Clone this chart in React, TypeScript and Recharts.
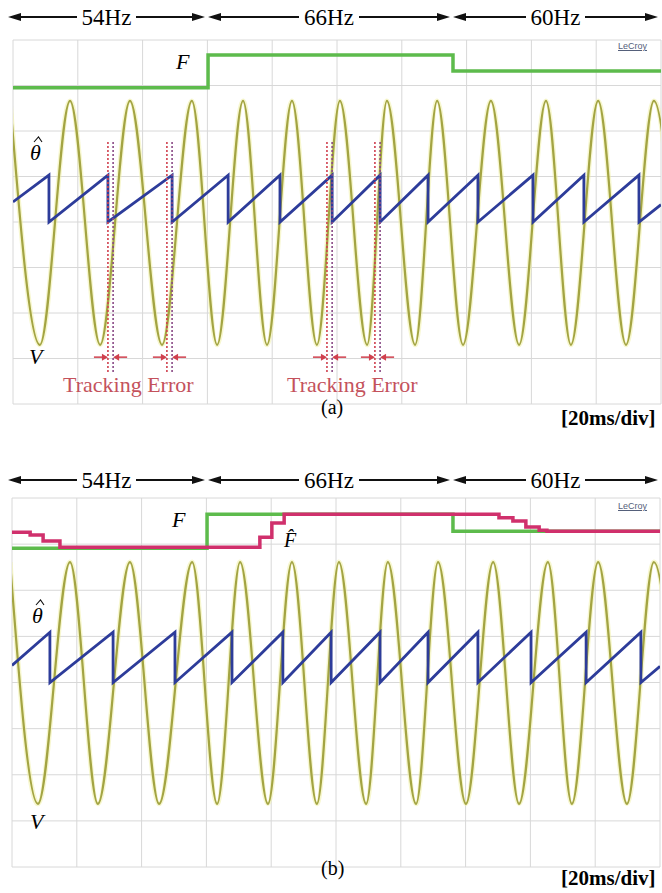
import React from "react";
import { ComposedChart, Line, XAxis, YAxis, CartesianGrid, Scatter } from "recharts";

// time axis in ms (20 ms/div), vertical axis in divisions
const X_TICKS = [0, 20, 40, 60, 80, 100, 120, 140, 160, 180, 200];
const Y_TICKS = [-4, -3, -2, -1, 0, 1, 2, 3, 4];

// ---- panel (a) ----
const A_SINE_T = [-0.9, 8.3, 17.6, 26.9, 36.1, 46.0, 55.2, 63.0, 71.0, 78.4, 86.1, 93.8, 100.9, 109.3, 115.4, 124.1, 130.9, 138.9, 147.5, 156.2, 164.5, 172.2, 180.6, 189.2, 197.8, 206.0];
const A_SINE_V = [2.66, -2.7, 2.66, -2.7, 2.66, -2.7, 2.66, -2.7, 2.66, -2.7, 2.66, -2.7, 2.66, -2.7, 2.66, -2.7, 2.66, -2.7, 2.66, -2.7, 2.66, -2.7, 2.66, -2.7, 2.66, -2.7];
const A_THETA_T = [0, 11.1, 11.1, 29.3, 29.3, 49.1, 49.1, 66.4, 66.4, 82.4, 82.4, 98.5, 98.5, 113.3, 113.3, 128.1, 128.1, 143.5, 143.5, 160.5, 160.5, 176.2, 176.2, 193.2, 193.2, 200];
const A_THETA_V = [0.44, 1.03, 0, 1.03, 0, 1.03, 0, 1.03, 0, 1.03, 0, 1.03, 0, 1.03, 0, 1.03, 0, 1.03, 0, 1.03, 0, 1.03, 0, 1.03, 0, 0.38];
const A_F_T = [0, 60.2, 135.8, 200];
const A_F_V = [2.95, 3.67, 3.32, 3.32];
// tracking error markers (left / right dotted lines)
const A_ERR_LEFT = [29.3, 47.5, 96.9, 111.7];
const A_ERR_RIGHT = [30.9, 49.1, 98.5, 113.3];
const ERR_TOP = 1.76;
const ERR_BOTTOM = -3.3;
const ERR_ARROW_Y = -2.97;

// ---- panel (b) ----
const B_SINE_T = [-0.6, 8.0, 17.9, 26.5, 36.4, 45.4, 55.6, 63.3, 70.4, 79.0, 86.4, 94.1, 100.9, 109.3, 116.0, 124.7, 131.5, 140.1, 148.5, 156.5, 165.4, 172.8, 180.9, 189.8, 198.1, 206.5];
const B_SINE_V = [2.61, -2.63, 2.61, -2.63, 2.61, -2.63, 2.61, -2.63, 2.61, -2.63, 2.61, -2.63, 2.61, -2.63, 2.61, -2.63, 2.61, -2.63, 2.61, -2.63, 2.61, -2.63, 2.61, -2.63, 2.61, -2.63];
const B_THETA_T = [0, 11.7, 11.7, 31.2, 31.2, 50.3, 50.3, 67.9, 67.9, 83.6, 83.6, 98.5, 98.5, 113.6, 113.6, 128.4, 128.4, 143.8, 143.8, 160.2, 160.2, 177.2, 177.2, 194.1, 194.1, 200];
const B_THETA_V = [0.37, 1.09, 0, 1.09, 0, 1.09, 0, 1.09, 0, 1.09, 0, 1.09, 0, 1.09, 0, 1.09, 0, 1.09, 0, 1.09, 0, 1.09, 0, 1.09, 0, 0.35];
const B_F_T = [0, 60.2, 136.1, 200];
const B_F_V = [2.91, 3.65, 3.28, 3.28];
const B_FHAT_T = [0, 5.6, 9.6, 14.8, 76.5, 80.2, 84.0, 150.3, 154.6, 158.6, 162.7, 165.1, 200];
const B_FHAT_V = [3.26, 3.2, 3.07, 2.93, 3.15, 3.46, 3.65, 3.57, 3.5, 3.37, 3.3, 3.28, 3.28];

const SERIF = '"Liberation Serif", "Times New Roman", serif';
const SINE = "#a3a443";
const SINE_GLOW = "#f1f1a8";
const THETA = "#2d3c9a";
const GREEN = "#5dbb4c";
const PINK = "#d0306c";
const ERR = "#d0404e";

type Pt = { t: number; v: number };
const zip = (t: number[], v: number[]): Pt[] => t.map((x, i) => ({ t: x, v: v[i] }));

function ArrowRight(props: { cx?: number; cy?: number }) {
  const { cx = 0, cy = 0 } = props;
  return (
    <g>
      <line x1={cx - 14} x2={cx - 4} y1={cy} y2={cy} stroke={ERR} strokeWidth={1.5} />
      <path d={`M${cx},${cy} L${cx - 6},${cy - 3.5} L${cx - 6},${cy + 3.5} Z`} fill={ERR} />
    </g>
  );
}

function ArrowLeft(props: { cx?: number; cy?: number }) {
  const { cx = 0, cy = 0 } = props;
  return (
    <g>
      <line x1={cx + 4} x2={cx + 14} y1={cy} y2={cy} stroke={ERR} strokeWidth={1.5} />
      <path d={`M${cx},${cy} L${cx + 6},${cy - 3.5} L${cx + 6},${cy + 3.5} Z`} fill={ERR} />
    </g>
  );
}

function Scope({
  sine,
  theta,
  f,
  fhat,
  margin,
  errors,
}: {
  sine: Pt[];
  theta: Pt[];
  f: Pt[];
  fhat?: Pt[];
  margin: { top: number; right: number; bottom: number; left: number };
  errors?: boolean;
}) {
  return (
    <ComposedChart width={662} height={430} margin={margin}>
      <CartesianGrid stroke="#d8d8d8" strokeWidth={1} />
      <XAxis dataKey="t" type="number" domain={[0, 200]} ticks={X_TICKS} allowDataOverflow hide />
      <YAxis type="number" domain={[-4, 4]} ticks={Y_TICKS} allowDataOverflow hide />
      <Line data={sine} dataKey="v" type="monotone" stroke={SINE_GLOW} strokeWidth={5} strokeOpacity={0.55} dot={false} isAnimationActive={false} />
      <Line data={sine} dataKey="v" type="monotone" stroke={SINE} strokeWidth={2.2} dot={false} isAnimationActive={false} />
      <Line data={f} dataKey="v" type="stepAfter" stroke={GREEN} strokeWidth={3.5} dot={false} isAnimationActive={false} />
      {fhat && (
        <Line data={fhat} dataKey="v" type="stepAfter" stroke={PINK} strokeWidth={3.5} dot={false} isAnimationActive={false} />
      )}
      <Line data={theta} dataKey="v" type="linear" stroke={THETA} strokeWidth={2.8} dot={false} isAnimationActive={false} />
      {errors &&
        A_ERR_LEFT.map((t, i) => (
          <Line
            key={"l" + i}
            data={[{ t, v: ERR_TOP }, { t, v: ERR_BOTTOM }]}
            dataKey="v"
            stroke={ERR}
            strokeWidth={1.6}
            strokeDasharray="2 2"
            dot={false}
            isAnimationActive={false}
          />
        ))}
      {errors &&
        A_ERR_RIGHT.map((t, i) => (
          <Line
            key={"r" + i}
            data={[{ t, v: ERR_TOP }, { t, v: ERR_BOTTOM }]}
            dataKey="v"
            stroke="#8a4a86"
            strokeWidth={1.6}
            strokeDasharray="2 2"
            dot={false}
            isAnimationActive={false}
          />
        ))}
      {errors && (
        <Scatter data={A_ERR_LEFT.map((t) => ({ t, v: ERR_ARROW_Y }))} dataKey="v" shape={<ArrowRight />} isAnimationActive={false} />
      )}
      {errors && (
        <Scatter data={A_ERR_RIGHT.map((t) => ({ t, v: ERR_ARROW_Y }))} dataKey="v" shape={<ArrowLeft />} isAnimationActive={false} />
      )}
    </ComposedChart>
  );
}

function Txt({ x, y, size = 22, style, children }: { x: number; y: number; size?: number; style?: React.CSSProperties; children: React.ReactNode }) {
  return (
    <div style={{ position: "absolute", left: x, top: y, fontFamily: SERIF, fontSize: size, lineHeight: 1, whiteSpace: "nowrap", ...style }}>
      {children}
    </div>
  );
}

// theta with a hat (hat drawn as a small svg chevron)
function ThetaHat({ x, y }: { x: number; y: number }) {
  return (
    <>
      <Txt x={x} y={y} style={{ fontStyle: "italic" }}>θ</Txt>
      <svg style={{ position: "absolute", left: x + 3, top: y - 6 }} width={10} height={7}>
        <path d="M1,6 L5.5,1 L9,6" fill="none" stroke="#111" strokeWidth={1.1} />
      </svg>
    </>
  );
}

function Header({ y }: { y: number }) {
  const segs = [
    { label: "54Hz", x0: 8, x1: 205 },
    { label: "66Hz", x0: 208, x1: 450 },
    { label: "60Hz", x0: 453, x1: 658 },
  ];
  return (
    <>
      {segs.map((s) => (
        <div
          key={s.label}
          style={{ position: "absolute", left: s.x0, top: y - 12, width: s.x1 - s.x0, height: 24, display: "flex", alignItems: "center" }}
        >
          <span style={{ width: 0, height: 0, borderTop: "4px solid transparent", borderBottom: "4px solid transparent", borderRight: "13px solid #111" }} />
          <span style={{ flex: 1, height: 1.6, background: "#111" }} />
          <span style={{ fontFamily: SERIF, fontSize: 23, padding: "0 5px", lineHeight: 1 }}>{s.label}</span>
          <span style={{ flex: 1, height: 1.6, background: "#111" }} />
          <span style={{ width: 0, height: 0, borderTop: "4px solid transparent", borderBottom: "4px solid transparent", borderLeft: "13px solid #111" }} />
        </div>
      ))}
    </>
  );
}

const lecroy: React.CSSProperties = { fontFamily: "Arial, sans-serif", fontSize: 9, color: "#55607a", textDecoration: "underline" };

export default function App() {
  return (
    <div style={{ position: "absolute", left: 0, top: 0, width: 662, height: 893, background: "#fff", overflow: "hidden" }}>
      {/* panel (a) */}
      <div style={{ position: "absolute", left: 0, top: 0 }}>
        <Scope
          sine={zip(A_SINE_T, A_SINE_V)}
          theta={zip(A_THETA_T, A_THETA_V)}
          f={zip(A_F_T, A_F_V)}
          margin={{ top: 40, right: 1, bottom: 26, left: 13 }}
          errors
        />
      </div>
      <Header y={17} />
      <Txt x={618} y={42} style={lecroy}>LeCroy</Txt>
      <Txt x={176} y={51} style={{ fontStyle: "italic" }}>F</Txt>
      <ThetaHat x={30} y={142} />
      <Txt x={29} y={346} style={{ fontStyle: "italic" }}>V</Txt>
      <Txt x={63} y={374} style={{ color: "#c4525c" }}>Tracking Error</Txt>
      <Txt x={287} y={374} style={{ color: "#c4525c" }}>Tracking Error</Txt>
      <Txt x={321} y={397} size={20}>(a)</Txt>
      <Txt x={561} y={408} size={21} style={{ fontWeight: "bold" }}>[20ms/div]</Txt>

      {/* panel (b) */}
      <div style={{ position: "absolute", left: 0, top: 460 }}>
        <Scope
          sine={zip(B_SINE_T, B_SINE_V)}
          theta={zip(B_THETA_T, B_THETA_V)}
          f={zip(B_F_T, B_F_V)}
          fhat={zip(B_FHAT_T, B_FHAT_V)}
          margin={{ top: 38, right: 2, bottom: 23, left: 12 }}
        />
      </div>
      <Header y={480} />
      <Txt x={618} y={502} style={lecroy}>LeCroy</Txt>
      <Txt x={172} y={509} style={{ fontStyle: "italic" }}>F</Txt>
      <Txt x={284} y={530} size={20} style={{ fontStyle: "italic" }}>{"F\u0302"}</Txt>
      <ThetaHat x={32} y={605} />
      <Txt x={30} y={811} style={{ fontStyle: "italic" }}>V</Txt>
      <Txt x={321} y={858} size={20}>(b)</Txt>
      <Txt x={561} y={868} size={21} style={{ fontWeight: "bold" }}>[20ms/div]</Txt>
    </div>
  );
}
